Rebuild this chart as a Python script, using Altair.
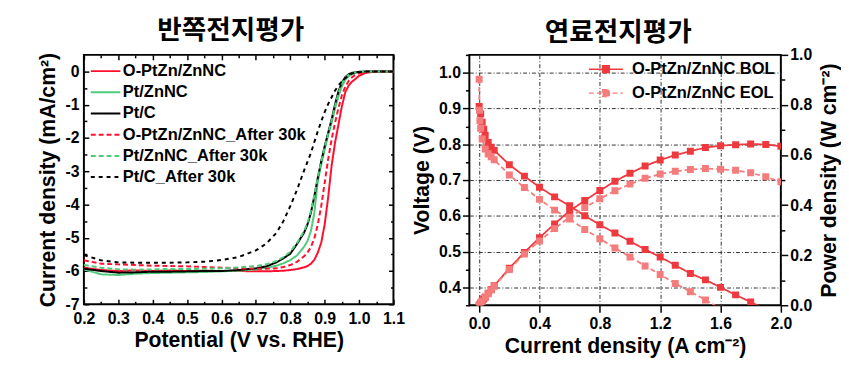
import altair as alt
import pandas as pd

# ---------------- Left panel: half-cell LSV ----------------
potential = [0.20, 0.25, 0.30, 0.35, 0.40, 0.45, 0.50, 0.55, 0.60, 0.65, 0.70, 0.73, 0.76, 0.78,
             0.80, 0.82, 0.84, 0.85, 0.86, 0.87, 0.88, 0.89, 0.90, 0.91, 0.92, 0.93, 0.94, 0.95,
             0.96, 0.97, 0.98, 0.99, 1.00, 1.02, 1.05, 1.10]
j_optzn = [-5.90, -5.97, -6.00, -5.98, -6.00, -5.98, -6.00, -5.99, -6.00, -6.00, -6.01, -6.01, -6.00, -5.99,
           -5.97, -5.94, -5.89, -5.85, -5.78, -5.66, -5.45, -5.15, -4.60, -3.80, -2.85, -2.15, -1.60, -1.05,
           -0.62, -0.42, -0.30, -0.22, -0.13, -0.04, 0.0, 0.0]
j_ptznnc = [-5.95, -6.10, -6.12, -6.08, -6.06, -6.05, -6.04, -6.03, -6.01, -5.99, -5.95, -5.90, -5.84, -5.77,
            -5.67, -5.53, -5.27, -5.10, -4.80, -4.25, -3.30, -2.80, -2.35, -1.92, -1.55, -1.12, -0.75, -0.45,
            -0.25, -0.14, -0.08, -0.04, -0.02, -0.01, 0.0, 0.0]
j_ptc = [-5.93, -6.00, -6.05, -6.04, -6.02, -6.02, -6.01, -6.00, -6.00, -5.97, -5.92, -5.86, -5.74, -5.62,
         -5.48, -5.18, -4.85, -4.60, -4.25, -3.75, -3.20, -2.70, -2.25, -1.85, -1.45, -1.00, -0.60, -0.33,
         -0.17, -0.08, -0.04, -0.02, -0.01, 0.0, 0.0, 0.0]
j_optzn_30k = [-5.68, -5.78, -5.80, -5.82, -5.84, -5.85, -5.86, -5.88, -5.90, -5.92, -5.93, -5.93, -5.92, -5.88,
               -5.82, -5.72, -5.56, -5.45, -5.28, -5.02, -4.60, -4.05, -3.35, -2.65, -2.05, -1.55, -1.10, -0.72,
               -0.45, -0.28, -0.17, -0.10, -0.05, -0.02, 0.0, 0.0]
j_ptznnc_30k = [-5.82, -5.90, -5.95, -5.96, -5.95, -5.94, -5.94, -5.93, -5.92, -5.89, -5.85, -5.80, -5.70, -5.58,
                -5.42, -5.15, -4.80, -4.55, -4.20, -3.72, -3.20, -2.72, -2.28, -1.88, -1.48, -1.05, -0.65, -0.36,
                -0.19, -0.09, -0.05, -0.02, -0.01, 0.0, 0.0, 0.0]
j_ptc_30k = [-5.52, -5.68, -5.74, -5.75, -5.75, -5.75, -5.74, -5.72, -5.67, -5.58, -5.38, -5.18, -4.85, -4.50,
             -4.05, -3.55, -2.98, -2.72, -2.45, -2.12, -1.80, -1.50, -1.22, -0.98, -0.78, -0.58, -0.42, -0.30,
             -0.20, -0.12, -0.06, -0.03, -0.02, 0.0, 0.0, 0.0]

lsv_names = ["O-PtZn/ZnNC", "Pt/ZnNC", "Pt/C",
             "O-PtZn/ZnNC_After 30k", "Pt/ZnNC_After 30k", "Pt/C_After 30k"]
lsv_series = [j_optzn, j_ptznnc, j_ptc, j_optzn_30k, j_ptznnc_30k, j_ptc_30k]
lsv_colors = ["#FF0F2D", "#4FCB7B", "#000000", "#FF0F2D", "#4FCB7B", "#000000"]
lsv_dashes = [[1, 0], [1, 0], [1, 0], [5, 3], [5, 3], [4, 4]]

x_major = [0.2, 0.3, 0.4, 0.5, 0.6, 0.7, 0.8, 0.9, 1.0, 1.1]
x_minor = [0.25, 0.35, 0.45, 0.55, 0.65, 0.75, 0.85, 0.95, 1.05]
y_major = [-7, -6, -5, -4, -3, -2, -1, 0]
y_minor = [-6.5, -5.5, -4.5, -3.5, -2.5, -1.5, -0.5]

# ---------------- Right panel: single cell ----------------
bol_i = [0.0, 0.01, 0.02, 0.03, 0.04, 0.06, 0.08, 0.1, 0.2, 0.3, 0.4, 0.5, 0.6, 0.7, 0.8, 0.9,
         1.0, 1.1, 1.2, 1.3, 1.4, 1.5, 1.6, 1.7, 1.8, 1.9, 2.0]
bol_v = [0.906, 0.885, 0.862, 0.842, 0.825, 0.805, 0.792, 0.783, 0.743, 0.711, 0.680, 0.653, 0.628, 0.600,
         0.575, 0.552, 0.529, 0.506, 0.485, 0.462, 0.439, 0.421, 0.400, 0.379, 0.359, 0.338, 0.318]
bol_p = [0.0, 0.009, 0.017, 0.025, 0.033, 0.048, 0.063, 0.078, 0.148, 0.211, 0.270, 0.325, 0.377, 0.418,
         0.458, 0.495, 0.527, 0.556, 0.580, 0.600, 0.615, 0.630, 0.637, 0.641, 0.644, 0.642, 0.635]
eol_i = [0.0, 0.002, 0.005, 0.01, 0.02, 0.04, 0.06, 0.08, 0.1, 0.2, 0.3, 0.4, 0.5, 0.6, 0.7, 0.8, 0.9,
         1.0, 1.1, 1.2, 1.3, 1.4, 1.5, 1.6, 1.7, 1.8, 1.9, 2.0]
eol_v = [0.982, 0.895, 0.866, 0.845, 0.815, 0.787, 0.773, 0.765, 0.757, 0.714, 0.679, 0.646, 0.616, 0.591,
         0.562, 0.536, 0.510, 0.485, 0.460, 0.436, 0.411, 0.388, 0.365, 0.340, 0.317, 0.294, 0.270, 0.247]
eol_p = [0.0, 0.002, 0.004, 0.008, 0.016, 0.031, 0.046, 0.061, 0.076, 0.143, 0.205, 0.257, 0.306, 0.352,
         0.390, 0.425, 0.457, 0.484, 0.507, 0.524, 0.535, 0.542, 0.546, 0.543, 0.539, 0.529, 0.513, 0.493]
fc_names = ["O-PtZn/ZnNC BOL", "O-PtZn/ZnNC EOL"]
fc_colors = ["#EE3A3F", "#F47C7C"]

ix_major = [0.0, 0.4, 0.8, 1.2, 1.6, 2.0]
v_major = [0.4, 0.5, 0.6, 0.7, 0.8, 0.9, 1.0]
v_minor = [0.35, 0.45, 0.55, 0.65, 0.75, 0.85, 0.95, 1.05]
p_major = [0.0, 0.2, 0.4, 0.6, 0.8, 1.0]
p_minor = [0.1, 0.3, 0.5, 0.7, 0.9]

# ---------------- tables ----------------
lsv_rows = []
for name, js in zip(lsv_names, lsv_series):
    for v, j in zip(potential, js):
        lsv_rows.append({"V": v, "J": j, "series": name})
lsv_df = pd.DataFrame(lsv_rows)

fc_rows = []
for name, I, V, P in [(fc_names[0], bol_i, bol_v, bol_p), (fc_names[1], eol_i, eol_v, eol_p)]:
    for a, b, c in zip(I, V, P):
        fc_rows.append({"I": a, "V": b, "P": c, "series": name})
fc_df = pd.DataFrame(fc_rows)

FONT = "Liberation Sans"
LEG_FS = 16.7

# ---------------- left chart ----------------
xs = alt.Scale(domain=[0.2, 1.1], nice=False, zero=False)
ys = alt.Scale(domain=[-7, 0.5], nice=False, zero=False)

left_legend = alt.Legend(
    orient="none", legendX=13.5, legendY=8, title=None,
    symbolType="M-2,0L2,0", symbolSize=225, symbolStrokeWidth=2,
    labelFont=FONT, labelFontSize=LEG_FS, labelFontWeight="bold", labelColor="black",
    labelOffset=9, rowPadding=3.5, padding=0, labelLimit=400,
)

lines = alt.Chart(lsv_df).mark_line(strokeWidth=2).encode(
    x=alt.X("V:Q", scale=xs, axis=alt.Axis(orient="bottom", values=x_major, format=".1f",
                                            ticks=False, labelPadding=7, labelFlush=False,
                                            title="Potential (V vs. RHE)", titlePadding=3)),
    y=alt.Y("J:Q", scale=ys, axis=alt.Axis(orient="left", values=y_major, labelExpr="'' + datum.value",
                                            ticks=False, labelPadding=5,
                                            title="Current density (mA/cm²)", titlePadding=6)),
    color=alt.Color("series:N", scale=alt.Scale(domain=lsv_names, range=lsv_colors), legend=left_legend),
    strokeDash=alt.StrokeDash("series:N", scale=alt.Scale(domain=lsv_names, range=lsv_dashes),
                              legend=left_legend),
    order=alt.Order("V:Q"),
)


def tick_layer(df, xf, yf, xsc, ysc, xaxis, yaxis):
    return alt.Chart(df).mark_point(opacity=0, size=1).encode(
        x=alt.X(xf, scale=xsc, axis=xaxis),
        y=alt.Y(yf, scale=ysc, axis=yaxis),
    )


def inner(orient, values, size):
    return alt.Axis(orient=orient, values=values, labels=False, domain=False, grid=False,
                    tickSize=size, offset=-size, title=None)


left = alt.layer(
    lines,
    tick_layer(lsv_df, "V:Q", "J:Q", xs, ys, inner("bottom", x_major, 5), inner("left", y_major, 5)),
    tick_layer(lsv_df, "V:Q", "J:Q", xs, ys, inner("bottom", x_minor, 3), inner("left", y_minor, 3)),
    tick_layer(lsv_df, "V:Q", "J:Q", xs, ys, inner("top", x_major, 5), inner("right", y_major, 5)),
    tick_layer(lsv_df, "V:Q", "J:Q", xs, ys, inner("top", x_minor, 3), inner("right", y_minor, 3)),
).resolve_axis(x="independent", y="independent").properties(
    width=314, height=253,
    title=alt.TitleParams("반쪽전지평가", offset=8, frame="group", dx=-8),
)

# ---------------- right chart ----------------
xs2 = alt.Scale(domain=[-0.065, 2.0], nice=False, zero=False)
vs = alt.Scale(domain=[0.35, 1.05], nice=False, zero=False)
ps = alt.Scale(domain=[0.0, 1.0], nice=False, zero=False)

fc_color_scale = alt.Scale(domain=fc_names, range=fc_colors)
fc_dash_scale = alt.Scale(domain=fc_names, range=[[1, 0], [5, 3]])

right_legend = alt.Legend(
    orient="none", legendX=130, legendY=6, title=None,
    symbolType="M-2.3,0L2.3,0M-0.45,-0.45L0.45,-0.45L0.45,0.45L-0.45,0.45Z",
    symbolSize=225, symbolStrokeWidth=1.5, symbolOpacity=1,
    labelFont=FONT, labelFontSize=LEG_FS, labelFontWeight="bold", labelColor="black",
    labelOffset=18, rowPadding=6.3, padding=0, labelLimit=400,
)

x_axis_r = alt.Axis(orient="bottom", values=ix_major, format=".1f", grid=True,
                    gridDash=[4, 2, 1, 2], gridColor="#333333", gridWidth=1,
                    tickSize=7, labelPadding=4, labelFlush=False,
                    title="Current density (A cm⁻²)", titlePadding=4)
v_axis = alt.Axis(orient="left", values=v_major, format=".1f", grid=True,
                  gridDash=[4, 2, 1, 2], gridColor="#333333", gridWidth=1,
                  tickSize=7, labelPadding=2, title="Voltage (V)", titlePadding=5)
p_axis = alt.Axis(orient="right", values=p_major, format=".1f", grid=False,
                  tickSize=7, labelPadding=2, title="Power density (W cm⁻²)", titlePadding=7,
                  titleAngle=270, titleBaseline="top")

v_line = alt.Chart(fc_df).mark_line(strokeWidth=1.8, clip=True).encode(
    x=alt.X("I:Q", scale=xs2, axis=x_axis_r),
    y=alt.Y("V:Q", scale=vs, axis=v_axis),
    color=alt.Color("series:N", scale=fc_color_scale, legend=right_legend),
    strokeDash=alt.StrokeDash("series:N", scale=fc_dash_scale, legend=right_legend),
    order=alt.Order("I:Q"),
)
v_pts = alt.Chart(fc_df).mark_point(shape="square", filled=True, size=50, opacity=1, clip=True).encode(
    x=alt.X("I:Q", scale=xs2, axis=x_axis_r),
    y=alt.Y("V:Q", scale=vs, axis=None),
    color=alt.Color("series:N", scale=fc_color_scale, legend=right_legend),
)
v_minor_l = alt.Chart(fc_df).mark_point(opacity=0, size=1).encode(
    x=alt.X("I:Q", scale=xs2, axis=x_axis_r),
    y=alt.Y("V:Q", scale=vs, axis=alt.Axis(orient="left", values=v_minor, labels=False, domain=False,
                                           grid=False, tickSize=4, title=None)),
)
volt = alt.layer(v_line, v_pts, v_minor_l).resolve_axis(y="independent")

p_line = alt.Chart(fc_df).mark_line(strokeWidth=1.8, clip=True).encode(
    x=alt.X("I:Q", scale=xs2, axis=x_axis_r),
    y=alt.Y("P:Q", scale=ps, axis=p_axis),
    color=alt.Color("series:N", scale=fc_color_scale, legend=None),
    strokeDash=alt.StrokeDash("series:N", scale=fc_dash_scale, legend=None),
    order=alt.Order("I:Q"),
)
p_pts = alt.Chart(fc_df).mark_point(shape="square", filled=True, size=50, opacity=1, clip=True).encode(
    x=alt.X("I:Q", scale=xs2, axis=x_axis_r),
    y=alt.Y("P:Q", scale=ps, axis=None),
    color=alt.Color("series:N", scale=fc_color_scale, legend=None),
)
p_minor_l = alt.Chart(fc_df).mark_point(opacity=0, size=1).encode(
    x=alt.X("I:Q", scale=xs2, axis=x_axis_r),
    y=alt.Y("P:Q", scale=ps, axis=alt.Axis(orient="right", values=p_minor, labels=False, domain=False,
                                           grid=False, tickSize=4, title=None)),
)
powr = alt.layer(p_line, p_pts, p_minor_l).resolve_axis(y="independent")

right = alt.layer(volt, powr).resolve_scale(y="independent").properties(
    width=316, height=254,
    title=alt.TitleParams("연료전지평가", offset=0, frame="group", dx=-7),
)

chart = alt.hconcat(left, right, spacing=4).resolve_scale(
    color="independent", strokeDash="independent"
).resolve_legend(color="independent", strokeDash="independent").properties(
    padding={"left": 28, "top": 5, "right": 0, "bottom": 0}
).configure_view(
    stroke="black", strokeWidth=2
).configure_axis(
    labelFont=FONT, labelFontSize=16, labelFontWeight="bold", labelColor="black",
    titleFont=FONT, titleFontSize=21.5, titleFontWeight="bold", titleColor="black",
    tickColor="black", tickWidth=1.5, domain=False, grid=False,
).configure_title(
    font="Noto Sans CJK KR", fontSize=27, fontWeight="bold", color="black", anchor="middle"
)

chart.save("out.html", embed_options={"renderer": "svg", "actions": False})
